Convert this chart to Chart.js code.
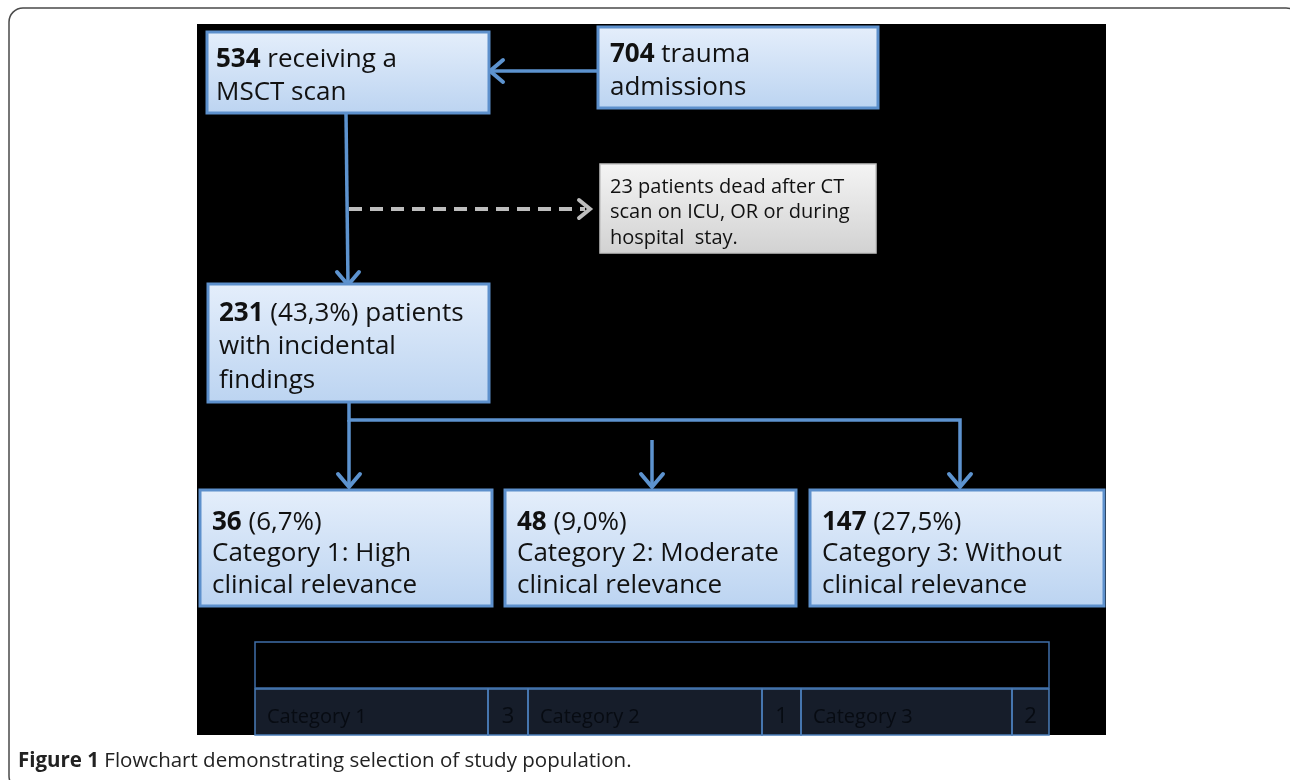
<!DOCTYPE html>
<html>
<head>
<meta charset="utf-8">
<script src="https://cdn.jsdelivr.net/npm/chart.js@4"></script>
<style>
  html, body { margin: 0; padding: 0; background: #fff; }
  #wrap { width: 1290px; height: 780px; }
</style>
</head>
<body>
<div id="wrap"><canvas id="flow" width="1290" height="780"></canvas></div>
<script>
// flow counts
const admissions = 704;
const scanned = 534;
const deceased = 23;
const withFindings = 231;
const findingsShare = '43,3%';

const categoryCounts = [36, 48, 147];
const categoryShares = ['6,7%', '9,0%', '27,5%'];
const categoryFirstLine = ['Category 1: High', 'Category 2: Moderate', 'Category 3: Without'];
const categorySecondLine = ['clinical relevance', 'clinical relevance', 'clinical relevance'];

const tableLabels = ['Category 1', 'Category 2', 'Category 3'];
const tableValues = [3, 1, 2];

const caption = 'Flowchart demonstrating selection of study population.';

// layout (page units, mapped through the hidden scales)
const boxFont = '"Open Sans", Lato, sans-serif';
const catBoxes = [[200, 490, 292, 116], [505, 490, 291, 116], [810, 490, 294, 116]];
const tableCols = [255, 488, 528, 762, 801, 1012, 1049];

function drawRuns(ctx, runs, x, y, size) {
    let cx = x;
    runs.forEach(r => {
        ctx.font = (r.bold ? '700 ' : '400 ') + size + 'px ' + boxFont;
        ctx.fillText(r.t, cx, y);
        cx += ctx.measureText(r.t).width;
    });
}

const flowPlugin = {
    id: 'flow',
    beforeDraw(chart) {
        const ctx = chart.ctx;
        const sx = chart.scales.x, sy = chart.scales.y;
        const X = v => sx.getPixelForValue(v);
        const Y = v => sy.getPixelForValue(v);

        ctx.save();
        ctx.fillStyle = '#ffffff';
        ctx.fillRect(0, 0, chart.width, chart.height);

        // outer frame
        ctx.strokeStyle = '#4a4a4a';
        ctx.lineWidth = 1.5;
        ctx.beginPath();
        ctx.roundRect(X(9), Y(8), X(1300) - X(9), Y(790) - Y(8), 14);
        ctx.stroke();

        // black panel
        ctx.fillStyle = '#000000';
        ctx.fillRect(X(197), Y(24), X(1106) - X(197), Y(735) - Y(24));

        function blueBox(x, y, w, h) {
            const g = ctx.createLinearGradient(0, Y(y), 0, Y(y + h));
            g.addColorStop(0, '#e4eefb');
            g.addColorStop(1, '#bcd4f1');
            ctx.fillStyle = g;
            ctx.fillRect(X(x), Y(y), X(x + w) - X(x), Y(y + h) - Y(y));
            ctx.strokeStyle = '#5d90cc';
            ctx.lineWidth = 3;
            ctx.strokeRect(X(x), Y(y), X(x + w) - X(x), Y(y + h) - Y(y));
        }

        function line(pts, color, width, dash) {
            ctx.strokeStyle = color;
            ctx.lineWidth = width;
            ctx.setLineDash(dash || []);
            ctx.beginPath();
            pts.forEach((p, i) => i ? ctx.lineTo(X(p[0]), Y(p[1])) : ctx.moveTo(X(p[0]), Y(p[1])));
            ctx.stroke();
            ctx.setLineDash([]);
        }

        function head(x, y, dir, color) {
            const s = 11;
            ctx.strokeStyle = color;
            ctx.lineWidth = 4;
            ctx.lineCap = 'round';
            ctx.beginPath();
            if (dir === 'down') {
                ctx.moveTo(X(x - s), Y(y - s - 2)); ctx.lineTo(X(x), Y(y)); ctx.lineTo(X(x + s), Y(y - s - 2));
            } else if (dir === 'left') {
                ctx.moveTo(X(x + s + 2), Y(y - s)); ctx.lineTo(X(x), Y(y)); ctx.lineTo(X(x + s + 2), Y(y + s));
            } else {
                ctx.moveTo(X(x - s), Y(y - s + 2)); ctx.lineTo(X(x), Y(y)); ctx.lineTo(X(x - s), Y(y + s - 2));
            }
            ctx.stroke();
            ctx.lineCap = 'butt';
        }

        const blue = '#5d93cf';
        // connectors
        line([[598, 71], [492, 71]], blue, 3.5);
        head(490, 71, 'left', blue);
        line([[346, 114], [348, 284]], blue, 3.5);
        head(348, 285, 'down', blue);
        line([[349, 209], [585, 209]], '#bdbdbd', 4, [13, 8]);
        head(590, 209, 'right', '#bdbdbd');
        line([[349, 403], [349, 420], [960, 420], [960, 486]], blue, 3.5);
        line([[349, 420], [349, 486]], blue, 3.5);
        line([[652, 440], [652, 486]], blue, 3.5);
        head(349, 487, 'down', blue);
        head(652, 487, 'down', blue);
        head(960, 487, 'down', blue);

        ctx.fillStyle = '#111';
        ctx.textBaseline = 'alphabetic';
        const fs = 26;

        // top boxes
        blueBox(207, 32, 282, 81);
        ctx.fillStyle = '#111';
        drawRuns(ctx, [{t: String(scanned), bold: true}, {t: ' receiving a'}], X(216), Y(67), fs);
        drawRuns(ctx, [{t: 'MSCT scan'}], X(216), Y(100), fs);

        blueBox(598, 27, 280, 81);
        ctx.fillStyle = '#111';
        drawRuns(ctx, [{t: String(admissions), bold: true}, {t: ' trauma'}], X(610), Y(62), fs);
        drawRuns(ctx, [{t: 'admissions'}], X(610), Y(95), fs);

        // grey exclusion box
        const gg = ctx.createLinearGradient(0, Y(164), 0, Y(253));
        gg.addColorStop(0, '#f4f4f4');
        gg.addColorStop(1, '#d2d2d2');
        ctx.fillStyle = gg;
        ctx.fillRect(X(600), Y(164), X(876) - X(600), Y(253) - Y(164));
        ctx.strokeStyle = '#c4c4c4';
        ctx.lineWidth = 1.5;
        ctx.strokeRect(X(600), Y(164), X(876) - X(600), Y(253) - Y(164));
        ctx.fillStyle = '#111';
        drawRuns(ctx, [{t: deceased + ' patients dead after CT'}], X(610), Y(193), 20);
        drawRuns(ctx, [{t: 'scan on ICU, OR or during'}], X(610), Y(218), 20);
        drawRuns(ctx, [{t: 'hospital  stay.'}], X(610), Y(244), 20);

        // findings box
        blueBox(208, 284, 281, 118);
        ctx.fillStyle = '#111';
        drawRuns(ctx, [{t: String(withFindings), bold: true}, {t: ' (' + findingsShare + ') patients'}], X(219), Y(321), fs);
        drawRuns(ctx, [{t: 'with incidental'}], X(219), Y(354), fs);
        drawRuns(ctx, [{t: 'findings'}], X(219), Y(388), fs);

        // category boxes
        catBoxes.forEach((b, i) => {
            blueBox(b[0], b[1], b[2], b[3]);
            ctx.fillStyle = '#111';
            drawRuns(ctx, [{t: String(categoryCounts[i]), bold: true}, {t: ' (' + categoryShares[i] + ')'}], X(b[0] + 12), Y(530), fs);
            drawRuns(ctx, [{t: categoryFirstLine[i]}], X(b[0] + 12), Y(561), fs);
            drawRuns(ctx, [{t: categorySecondLine[i]}], X(b[0] + 12), Y(593), fs);
        });

        // faint table
        ctx.strokeStyle = '#3f6ea8';
        ctx.lineWidth = 1.5;
        ctx.strokeRect(X(255), Y(642), X(1049) - X(255), Y(688) - Y(642));
        ctx.fillStyle = '#161d2a';
        ctx.fillRect(X(255), Y(689), X(1049) - X(255), Y(735) - Y(689));
        ctx.strokeStyle = '#4a7cb8';
        for (let c = 0; c < tableCols.length - 1; c++) {
            ctx.strokeRect(X(tableCols[c]), Y(689), X(tableCols[c + 1]) - X(tableCols[c]), Y(735) - Y(689));
        }
        ctx.fillStyle = '#070b12';
        tableLabels.forEach((t, i) => {
            drawRuns(ctx, [{t: t}], X(tableCols[i * 2] + 12), Y(723), 20);
            ctx.textAlign = 'center';
            ctx.font = '400 22px ' + boxFont;
            ctx.fillText(String(tableValues[i]), X((tableCols[i * 2 + 1] + tableCols[i * 2 + 2]) / 2), Y(723));
            ctx.textAlign = 'left';
        });

        // caption
        ctx.fillStyle = '#222';
        drawRuns(ctx, [{t: 'Figure 1', bold: true}, {t: ' ' + caption}], X(18), Y(767), 20.5);
        ctx.restore();
    }
};

new Chart(document.getElementById('flow'), {
    type: 'scatter',
    data: { datasets: [] },
    options: {
        responsive: false,
        animation: false,
        layout: { padding: 0 },
        plugins: { legend: { display: false }, tooltip: { enabled: false } },
        scales: {
            x: { type: 'linear', min: 0, max: 1290, display: false },
            y: { type: 'linear', min: 0, max: 780, reverse: true, display: false }
        }
    },
    plugins: [flowPlugin]
});
</script>
</body>
</html>
